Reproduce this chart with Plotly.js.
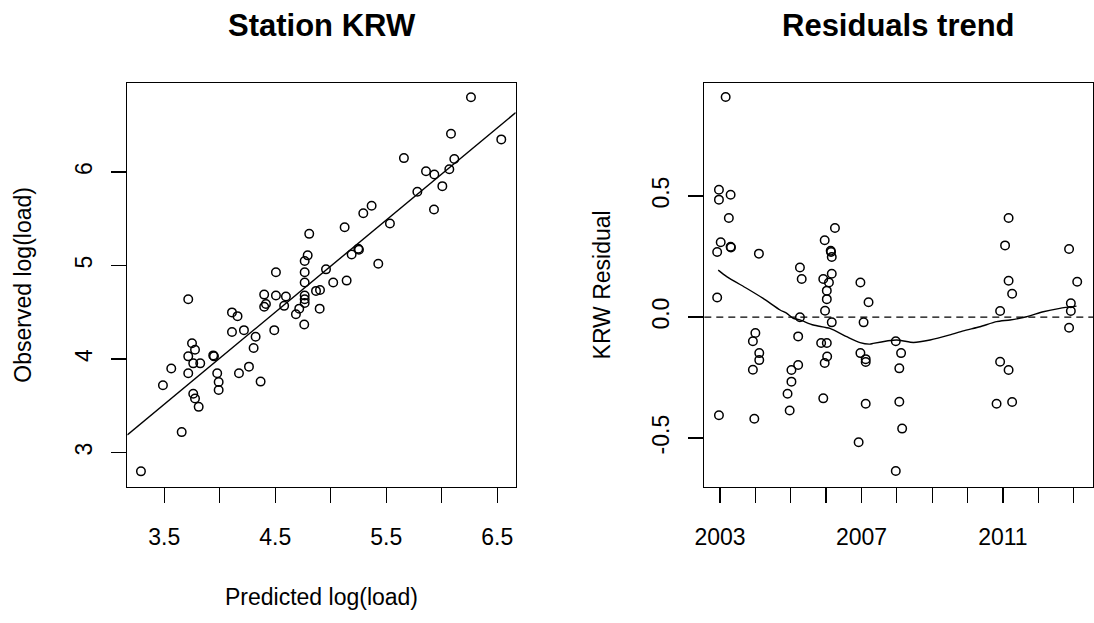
<!DOCTYPE html>
<html>
<head>
<meta charset="utf-8">
<script src="https://cdn.plot.ly/plotly-3.0.1.min.js"></script>
<style>
html, body { margin: 0; padding: 0; background: #fff; }
#chart { width: 1094px; height: 623px; }
</style>
</head>
<body>
<div id="chart"></div>
<script>
// ---- Left panel: Station KRW (predicted vs observed log(load)) ----
const predicted = [
  3.29, 3.657, 3.488, 3.563, 3.716, 3.716, 3.716, 3.75, 3.777, 3.761,
  3.824, 3.761, 3.777, 3.81, 3.941, 3.948, 3.977, 3.99, 3.99, 4.11,
  4.16, 4.11, 4.173, 4.218, 4.263, 4.305, 4.323, 4.368, 4.40, 4.416,
  4.40, 4.491, 4.506, 4.506, 4.58, 4.596, 4.686, 4.716, 4.761, 4.765,
  4.765, 4.765, 4.765, 4.765, 4.765, 4.792, 4.806, 4.867, 4.903, 4.90,
  4.957, 5.022, 5.143, 5.125, 5.188, 5.248, 5.254, 5.293, 5.368, 5.428,
  5.533, 5.659, 5.78, 5.858, 5.93, 5.933, 6.005, 6.068, 6.083, 6.113,
  6.263, 6.536
];
const observed = [
  2.80, 3.22, 3.72, 3.90, 3.85, 4.03, 4.64, 4.17, 4.10, 3.955,
  3.955, 3.63, 3.58, 3.49, 4.04, 4.03, 3.85, 3.755, 3.67, 4.50,
  4.46, 4.29, 3.85, 4.31, 3.92, 4.12, 4.24, 3.76, 4.69, 4.59,
  4.56, 4.31, 4.68, 4.93, 4.57, 4.67, 4.48, 4.54, 4.37, 4.60,
  4.64, 4.68, 4.82, 4.93, 5.05, 5.11, 5.34, 4.73, 4.74, 4.54,
  4.96, 4.82, 4.84, 5.41, 5.12, 5.18, 5.17, 5.56, 5.64, 5.02,
  5.45, 6.15, 5.79, 6.01, 5.60, 5.975, 5.85, 6.03, 6.41, 6.14,
  6.80, 6.35
];
const fitIntercept = 0.07;
const fitSlope = 0.985;
const leftXRange = [3.167, 6.666];
const leftYRange = [2.636, 6.953];
const leftXTicks = [3.5, 4.0, 4.5, 5.0, 5.5, 6.0, 6.5];
const leftXTickText = ['3.5', '', '4.5', '', '5.5', '', '6.5'];
const leftYTicks = [3, 4, 5, 6];
const leftYTickText = ['3', '4', '5', '6'];

// ---- Right panel: Residuals trend ----
const resYear = [
  2003.16, 2002.97, 2002.97, 2003.30, 2003.25, 2003.02, 2002.92, 2003.30, 2003.31, 2002.92,
  2002.97, 2004.10, 2004.00, 2003.93, 2004.11, 2004.11, 2003.93, 2003.97, 2005.26, 2005.31,
  2005.26, 2005.21, 2005.21, 2005.02, 2005.02, 2004.91, 2004.97, 2006.25, 2005.96, 2006.13,
  2006.14, 2006.16, 2006.16, 2005.92, 2006.08, 2006.02, 2006.02, 2005.97, 2006.16, 2005.86,
  2006.02, 2006.03, 2005.96, 2005.92, 2006.97, 2007.20, 2007.06, 2006.97, 2007.12, 2007.12,
  2007.12, 2006.92, 2007.97, 2008.12, 2008.07, 2008.07, 2008.15, 2007.97, 2011.16, 2011.06,
  2011.16, 2011.26, 2010.92, 2010.92, 2011.16, 2010.82, 2011.26, 2012.87, 2013.10, 2012.92,
  2012.92, 2012.87
];
const residual = [
  0.909, 0.526, 0.485, 0.505, 0.409, 0.309, 0.269, 0.290, 0.287, 0.081,
  -0.406, 0.262, -0.066, -0.100, -0.149, -0.178, -0.218, -0.420, 0.205, 0.157,
  -0.001, -0.080, -0.198, -0.219, -0.267, -0.317, -0.386, 0.368, 0.317, 0.274,
  0.269, 0.248, 0.179, 0.157, 0.143, 0.109, 0.074, 0.026, -0.022, -0.107,
  -0.107, -0.163, -0.190, -0.336, 0.143, 0.061, -0.022, -0.149, -0.174, -0.186,
  -0.358, -0.517, -0.100, -0.149, -0.212, -0.350, -0.461, -0.636, 0.409, 0.296,
  0.150, 0.096, 0.025, -0.185, -0.219, -0.358, -0.351, 0.281, 0.146, 0.057,
  0.025, -0.044
];
const smoothYear = [
  2002.95, 2003.19, 2003.75, 2004.22, 2004.70, 2004.89, 2005.07, 2005.26, 2005.64, 2006.11,
  2006.58, 2006.96, 2007.24, 2007.33, 2007.99, 2008.47, 2008.94, 2009.50, 2009.88, 2010.35,
  2010.82, 2011.20, 2011.67, 2012.14, 2012.61, 2013.08
];
const smoothResid = [
  0.194, 0.167, 0.119, 0.077, 0.029, 0.015, -0.005, -0.012, -0.033, -0.047,
  -0.081, -0.106, -0.112, -0.109, -0.095, -0.105, -0.095, -0.074, -0.057, -0.040,
  -0.019, -0.012, 0.001, 0.022, 0.036, 0.045
];
const refLevel = 0;
const rightXRange = [2002.556, 2013.555];
const rightYRange = [-0.701, 0.967];
const rightXTicks = [2003, 2004, 2005, 2006, 2007, 2008, 2009, 2010, 2011, 2012, 2013];
const rightXTickText = ['2003', '', '', '', '2007', '', '', '', '2011', '', ''];
const rightYTicks = [-0.5, 0, 0.5];
const rightYTickText = ['-0.5', '0.0', '0.5'];

const FONT = 'Liberation Sans, Arial, Helvetica, sans-serif';
const W = 1094, H = 623;

const markerStyle = { symbol: 'circle-open', size: 8.5, color: '#000', line: { width: 1.5, color: '#000' } };

const traces = [
  {
    x: predicted, y: observed, type: 'scatter', mode: 'markers',
    marker: markerStyle, xaxis: 'x', yaxis: 'y', hoverinfo: 'x+y'
  },
  {
    x: leftXRange, y: leftXRange.map(v => fitIntercept + fitSlope * v),
    type: 'scatter', mode: 'lines', line: { color: '#000', width: 1.4 },
    xaxis: 'x', yaxis: 'y'
  },
  {
    x: resYear, y: residual, type: 'scatter', mode: 'markers',
    marker: markerStyle, xaxis: 'x2', yaxis: 'y2'
  },
  {
    x: smoothYear, y: smoothResid, type: 'scatter', mode: 'lines',
    line: { color: '#000', width: 1.4, shape: 'spline', smoothing: 0.6 },
    xaxis: 'x2', yaxis: 'y2'
  }
];

const yDom = [1 - 486.7 / H, 1 - 83 / H];

function axisBase() {
  return {
    showgrid: false, zeroline: false,
    showline: true, mirror: true, linecolor: '#000', linewidth: 1.5,
    ticks: 'outside', ticklen: 15, tickwidth: 1.3, tickcolor: '#000',
    tickfont: { family: FONT, size: 23, color: '#000' },
    tickmode: 'array', automargin: false
  };
}

const layout = {
  width: W, height: H,
  margin: { l: 0, r: 0, t: 0, b: 0 },
  paper_bgcolor: '#fff', plot_bgcolor: '#fff',
  showlegend: false,
  font: { family: FONT, color: '#000' },
  xaxis: Object.assign(axisBase(), {
    domain: [127.3 / W, 515.7 / W], range: leftXRange, anchor: 'y',
    tickvals: leftXTicks, ticktext: leftXTickText, ticklabelstandoff: 14,
    title: { text: 'Predicted log(load)', font: { family: FONT, size: 23, color: '#000' }, standoff: 40 }
  }),
  yaxis: Object.assign(axisBase(), {
    domain: yDom, range: leftYRange, anchor: 'x',
    tickvals: leftYTicks, ticktext: leftYTickText, tickangle: -90, ticklabelstandoff: 10,
    title: { text: 'Observed log(load)', font: { family: FONT, size: 23, color: '#000' }, standoff: 32 }
  }),
  xaxis2: Object.assign(axisBase(), {
    domain: [704.3 / W, 1093.3 / W], range: rightXRange, anchor: 'y2',
    tickvals: rightXTicks, ticktext: rightXTickText, ticklabelstandoff: 14
  }),
  yaxis2: Object.assign(axisBase(), {
    domain: yDom, range: rightYRange, anchor: 'x2',
    tickvals: rightYTicks, ticktext: rightYTickText, tickangle: -90, ticklabelstandoff: 10,
    title: { text: 'KRW Residual', font: { family: FONT, size: 23, color: '#000' }, standoff: 30 }
  }),
  shapes: [
    {
      type: 'line', xref: 'x2 domain', yref: 'y2',
      x0: 0, x1: 1, y0: refLevel, y1: refLevel,
      line: { color: '#000', width: 1.3, dash: '7px,5px' }
    }
  ],
  annotations: [
    {
      text: 'Station KRW', xref: 'paper', yref: 'paper',
      x: 321.5 / W, y: 1 - 25 / H, xanchor: 'center', yanchor: 'middle', showarrow: false,
      font: { family: FONT, size: 31, color: '#000', weight: 'bold' }
    },
    {
      text: 'Residuals trend', xref: 'paper', yref: 'paper',
      x: 898.8 / W, y: 1 - 25 / H, xanchor: 'center', yanchor: 'middle', showarrow: false,
      font: { family: FONT, size: 31, color: '#000', weight: 'bold' }
    }
  ]
};

Plotly.newPlot('chart', traces, layout, { staticPlot: true, displayModeBar: false });
</script>
</body>
</html>
